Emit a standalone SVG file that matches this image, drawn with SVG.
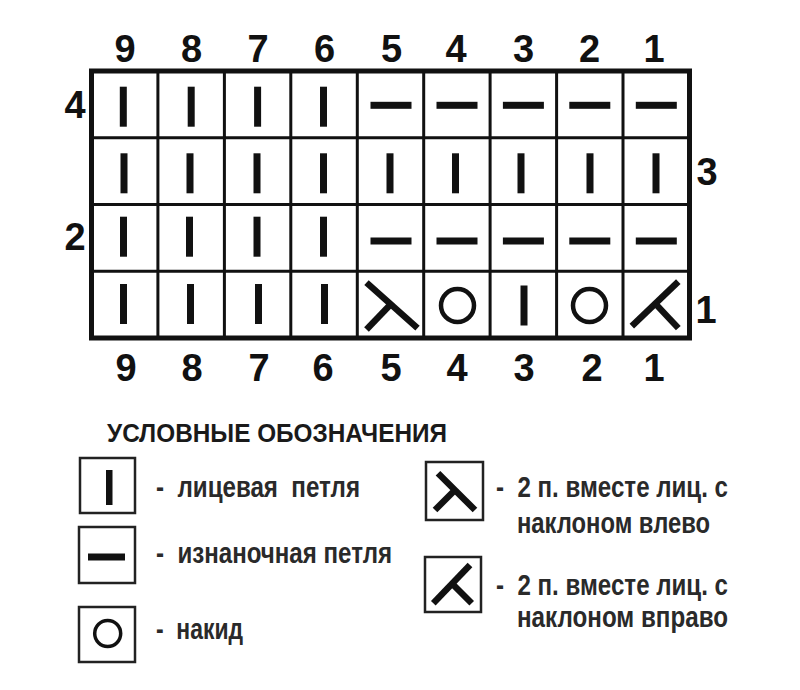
<svg xmlns="http://www.w3.org/2000/svg" xmlns:xlink="http://www.w3.org/1999/xlink" width="800" height="690" viewBox="0 0 800 690">
<style>
.num{font-family:"Liberation Sans",Arial,sans-serif;font-weight:bold;font-size:38px;fill:#111;text-anchor:middle}
.title{font-family:"Liberation Sans",Arial,sans-serif;font-weight:bold;font-size:25px;fill:#1a1a1a}
.lt{font-family:"Liberation Sans",Arial,sans-serif;font-weight:bold;font-size:29px;fill:#2a2a2a}
.inner{stroke:#111;stroke-width:3;fill:none}
.outer{stroke:#111;stroke-width:5;fill:#fff}
.lbox{stroke:#222;stroke-width:2.5;fill:#fff}
.dec{stroke:#111;stroke-width:6.5;fill:none}
.yo{stroke:#111;stroke-width:4.5;fill:none}
</style>
<defs>
<rect id="knit" x="-3.5" y="-20" width="7" height="40" fill="#111"/>
<rect id="purl" x="-20.5" y="-3.5" width="41" height="7" fill="#111"/>
<circle id="yo" r="16.5" class="yo"/>
<g id="decL" class="dec"><line x1="-24" y1="-22" x2="27" y2="23.5"/><line x1="0" y1="0" x2="-24" y2="25"/></g>
<g id="decR" class="dec"><line x1="22" y1="-23" x2="-24.5" y2="21.5"/><line x1="-1" y1="-1" x2="22" y2="23.5"/></g>
</defs>
<rect width="800" height="690" fill="#fff"/>

<g id="grid">
<rect class="outer" x="91.5" y="71" width="598" height="267"/>
<path class="inner" d="M157.9 71V338M224.4 71V338M290.8 71V338M357.3 71V338M423.7 71V338M490.1 71V338M556.6 71V338M623 71V338M91.5 137.8H689.5M91.5 204.5H689.5M91.5 271.3H689.5"/>
</g>

<g id="col-numbers-top">
<text class="num" x="125" y="62">9</text>
<text class="num" x="191.5" y="62">8</text>
<text class="num" x="258" y="62">7</text>
<text class="num" x="324.5" y="62">6</text>
<text class="num" x="391.5" y="62">5</text>
<text class="num" x="456" y="62">4</text>
<text class="num" x="523.5" y="62">3</text>
<text class="num" x="589.5" y="62">2</text>
<text class="num" x="654" y="62">1</text>
</g>
<g id="col-numbers-bottom">
<text class="num" x="126" y="381">9</text>
<text class="num" x="192" y="381">8</text>
<text class="num" x="259" y="381">7</text>
<text class="num" x="323" y="381">6</text>
<text class="num" x="391" y="381">5</text>
<text class="num" x="457" y="381">4</text>
<text class="num" x="524" y="381">3</text>
<text class="num" x="592" y="381">2</text>
<text class="num" x="654" y="381">1</text>
</g>
<g id="row-numbers">
<text class="num" x="75" y="118">4</text>
<text class="num" x="75" y="250">2</text>
<text class="num" x="707" y="185">3</text>
<text class="num" x="706" y="323">1</text>
</g>

<g id="row4">
<use xlink:href="#knit" x="123.3" y="106.7"/>
<use xlink:href="#knit" x="191.2" y="106.7"/>
<use xlink:href="#knit" x="257.6" y="106.7"/>
<use xlink:href="#knit" x="323.5" y="106.7"/>
<use xlink:href="#purl" x="391" y="105.3"/>
<use xlink:href="#purl" x="457" y="105.3"/>
<use xlink:href="#purl" x="523.4" y="105.3"/>
<use xlink:href="#purl" x="589.8" y="105.3"/>
<use xlink:href="#purl" x="656.3" y="105.3"/>
</g>
<g id="row3">
<use xlink:href="#knit" x="124" y="173.3"/>
<use xlink:href="#knit" x="190" y="173.3"/>
<use xlink:href="#knit" x="257" y="173.3"/>
<use xlink:href="#knit" x="323.5" y="173.3"/>
<use xlink:href="#knit" x="390" y="173.3"/>
<use xlink:href="#knit" x="455.5" y="173.3"/>
<use xlink:href="#knit" x="521" y="173.3"/>
<use xlink:href="#knit" x="590" y="173.3"/>
<use xlink:href="#knit" x="656" y="173.3"/>
</g>
<g id="row2">
<use xlink:href="#knit" x="123.5" y="236.7"/>
<use xlink:href="#knit" x="189.5" y="236.7"/>
<use xlink:href="#knit" x="257" y="236.7"/>
<use xlink:href="#knit" x="323.5" y="236.7"/>
<use xlink:href="#purl" x="391" y="241"/>
<use xlink:href="#purl" x="457" y="241"/>
<use xlink:href="#purl" x="523.4" y="241"/>
<use xlink:href="#purl" x="589.8" y="241"/>
<use xlink:href="#purl" x="656.3" y="241"/>
</g>
<g id="row1">
<use xlink:href="#knit" x="123.5" y="304"/>
<use xlink:href="#knit" x="190.5" y="304"/>
<use xlink:href="#knit" x="258.5" y="304"/>
<use xlink:href="#knit" x="324.5" y="304"/>
<use xlink:href="#decL" x="390.5" y="304.6"/>
<use xlink:href="#yo" x="457.5" y="305.5"/>
<use xlink:href="#knit" x="524" y="305.5"/>
<use xlink:href="#yo" x="589.5" y="305.5"/>
<use xlink:href="#decR" x="656.3" y="304.6"/>
</g>

<g id="legend-title">
<text class="title" x="107" y="441.5" textLength="340" lengthAdjust="spacingAndGlyphs">УСЛОВНЫЕ ОБОЗНАЧЕНИЯ</text>
</g>
<g id="legend-knit">
<rect class="lbox" x="80" y="458" width="55" height="55"/>
<rect x="106" y="470" width="6.5" height="35" fill="#111"/>
<text class="lt" x="156" y="497" xml:space="preserve" textLength="204" lengthAdjust="spacingAndGlyphs">-  лицевая  петля</text>
</g>
<g id="legend-purl">
<rect class="lbox" x="79" y="527" width="56" height="56"/>
<rect x="88" y="553.5" width="37" height="7" fill="#111"/>
<text class="lt" x="156" y="563" xml:space="preserve" textLength="236" lengthAdjust="spacingAndGlyphs">-  изнаночная петля</text>
</g>
<g id="legend-yo">
<rect class="lbox" x="79" y="607" width="56" height="55"/>
<circle cx="107.7" cy="633.5" r="13" fill="none" stroke="#111" stroke-width="3.5"/>
<text class="lt" x="156" y="639" xml:space="preserve" textLength="87" lengthAdjust="spacingAndGlyphs">-  накид</text>
</g>
<g id="legend-decL">
<rect class="lbox" x="426" y="462" width="57" height="58"/>
<g class="dec" stroke-width="5"><line x1="438" y1="473.3" x2="475" y2="510"/><line x1="455" y1="490" x2="435" y2="510"/></g>
<text class="lt" x="496" y="497" xml:space="preserve" textLength="232" lengthAdjust="spacingAndGlyphs">-  2 п. вместе лиц. с</text>
<text class="lt" x="517" y="533" textLength="193" lengthAdjust="spacingAndGlyphs">наклоном влево</text>
</g>
<g id="legend-decR">
<rect class="lbox" x="425" y="557" width="56" height="55"/>
<g class="dec" stroke-width="5"><line x1="470" y1="565" x2="433.3" y2="603.3"/><line x1="451.7" y1="583.3" x2="471.7" y2="603.3"/></g>
<text class="lt" x="496" y="595" xml:space="preserve" textLength="232" lengthAdjust="spacingAndGlyphs">-  2 п. вместе лиц. с</text>
<text class="lt" x="517" y="627" textLength="211" lengthAdjust="spacingAndGlyphs">наклоном вправо</text>
</g>
</svg>
